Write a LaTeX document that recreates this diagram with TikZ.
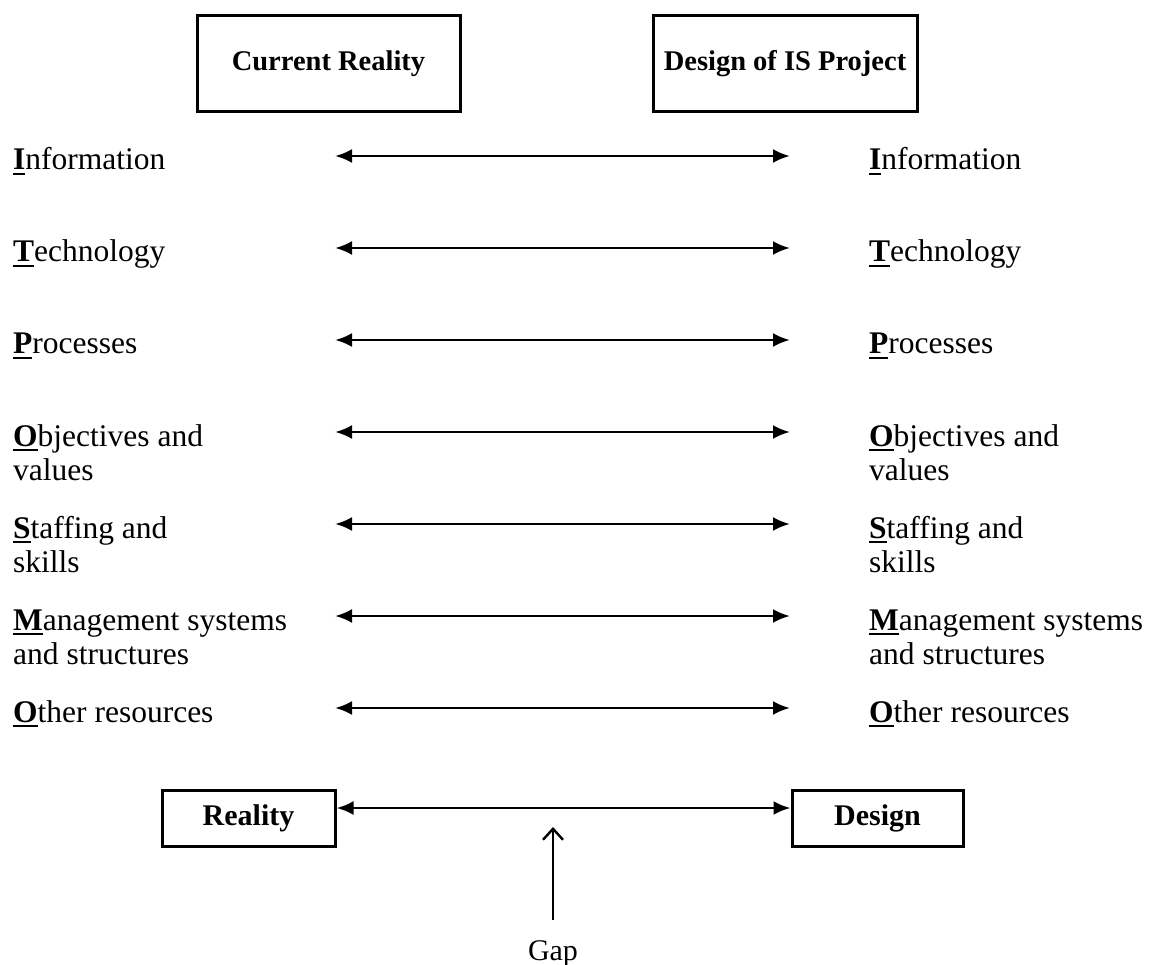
\documentclass[tikz,border=0pt]{standalone}
\usepackage{fontspec}
\setmainfont{Liberation Serif}
\usetikzlibrary{arrows.meta}
\newcommand\firstul[1]{\setbox0\hbox{\textbf{#1}}\rlap{\rule[-5pt]{\wd0}{2.2pt}}\box0}
\tikzset{
  headbox/.style={draw, line width=3pt, inner sep=0pt, font=\fontsize{28.5}{32}\selectfont\bfseries},
  smallbox/.style={draw, line width=3pt, inner sep=0pt, font=\fontsize{30}{34}\selectfont\bfseries},
  lbl/.style={anchor=base west, inner sep=0pt, font=\fontsize{31.5}{34}\selectfont},
  dbl/.style={line width=2.7pt, {Latex[length=17pt,width=14pt]}-{Latex[length=17pt,width=14pt]}},
  gaparrow/.style={line width=2.4pt, -{Straight Barb[length=11pt,width=20pt,line width=2.4pt]}},
}
\begin{document}
\begin{tikzpicture}[x=1pt,y=-1pt]
\useasboundingbox[fill=white] (0,0) rectangle (1151,965);
% heading boxes
\node[headbox, minimum width=263pt, minimum height=96pt] (cur) at (328.5,64) {Current Reality};
\node[headbox, minimum width=264pt, minimum height=96pt] (des) at (785,64) {Design of IS Project};
% rows
\foreach \i/\y/\txt in {
  1/156/{\firstul{I}nformation},
  2/248/{\firstul{T}echnology},
  3/340/{\firstul{P}rocesses},
  4/432/{\vtop{\hbox{\firstul{O}bjectives and}\hbox{values}}},
  5/524/{\vtop{\hbox{\firstul{S}taffing and}\hbox{skills}}},
  6/616/{\vtop{\hbox{\firstul{M}anagement systems}\hbox{and structures}}},
  7/708/{\firstul{O}ther resources}}{
  \node[lbl] (l\i) at (13,\y+14) {\txt};
  \node[lbl] (r\i) at (869,\y+14) {\txt};
  \coordinate (al\i) at (335,\y);
  \coordinate (ar\i) at (790,\y);
  \draw[dbl] (al\i) -- (ar\i);
}
% bottom boxes
\node[smallbox, minimum width=173pt, minimum height=56pt] (real) at (248.5,818) {Reality};
\node[smallbox, minimum width=171pt, minimum height=56pt] (dsg) at (877.5,818) {Design};
\coordinate (rl) at (real.east |- 0,808);
\coordinate (dl) at (dsg.west |- 0,808);
\draw[dbl] (rl) -- (dl);
% gap
\node[anchor=base, inner sep=0pt, outer ysep=20pt, font=\fontsize{30}{34}\selectfont] (gap) at (553,960) {Gap};
\coordinate (gaptip) at (553,827);
\draw[gaparrow] (gap.north) -- (gaptip);
\end{tikzpicture}
\end{document}
